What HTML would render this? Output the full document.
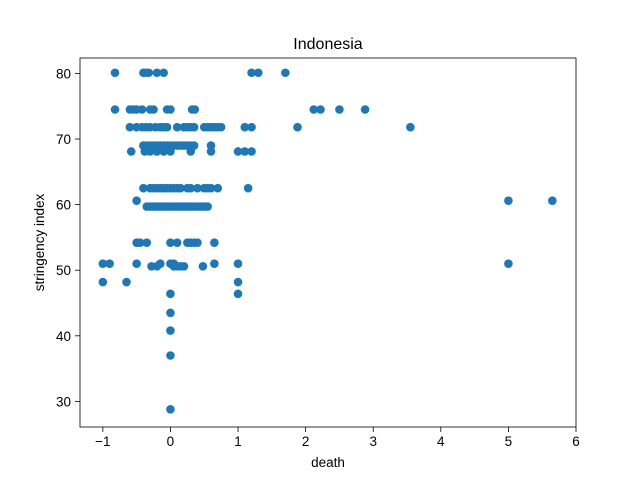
<!DOCTYPE html>
<html><head><meta charset="utf-8"><style>body{margin:0;background:#fff}svg{font-family:"Liberation Sans","DejaVu Sans",sans-serif}</style></head>
<body>
<svg id="chart" width="640" height="480" xmlns="http://www.w3.org/2000/svg">
<rect width="640" height="480" fill="#fff"/>
<g id="points"></g>
<rect x="80" y="58" width="496" height="369" fill="none" stroke="#000" stroke-width="0.8"/>
<g id="xt"></g>
<g id="yt"></g>
<text x="328" y="49" font-size="16" text-anchor="middle">Indonesia</text>
<text x="328" y="467" font-size="13.5" text-anchor="middle">death</text>
<text transform="translate(44,242.5) rotate(-90)" font-size="13.5" text-anchor="middle">stringency index</text>
</svg>
<script>
const xTicks=[-1,0,1,2,3,4,5,6];
const yTicks=[30,40,50,60,70,80];
const levels=[80.1,74.5,71.8,69,68.1,62.5,60.6,59.7,54.2,51,50.6,48.2,46.4,43.5,40.8,37,28.8];
const xsByLevel=[
[-0.82,-0.4,-0.36,-0.32,-0.2,-0.1,1.2,1.3,1.7],
[-0.82,-0.6,-0.55,-0.5,-0.42,-0.3,-0.25,-0.05,0,0.32,0.36,2.12,2.22,2.5,2.88],
[-0.6,-0.5,-0.42,-0.36,-0.3,-0.22,-0.15,-0.1,-0.05,0.1,0.2,0.25,0.3,0.35,0.5,0.55,0.6,0.65,0.7,0.75,1.1,1.2,1.88,3.55],
[-0.4,-0.35,-0.3,-0.25,-0.2,-0.15,-0.1,-0.05,0,0.05,0.1,0.15,0.2,0.25,0.3,0.35,0.6],
[-0.58,-0.38,-0.3,-0.2,-0.1,0,0.3,0.6,1,1.1,1.2],
[-0.4,-0.3,-0.25,-0.2,-0.15,-0.1,-0.05,0,0.05,0.1,0.15,0.25,0.3,0.4,0.5,0.55,0.6,0.7,1.15],
[-0.5,5,5.65],
[-0.35,-0.3,-0.25,-0.2,-0.15,-0.1,-0.05,0,0.05,0.1,0.15,0.2,0.25,0.3,0.35,0.4,0.45,0.5,0.55],
[-0.5,-0.45,-0.35,0,0.1,0.25,0.3,0.35,0.4,0.65],
[-1,-0.9,-0.5,-0.15,0,0.05,0.65,1,5],
[-0.28,-0.2,0.05,0.1,0.15,0.2,0.48],
[-1,-0.65,1],
[0,1],[0],[0],[0],[0]];
const NS="http://www.w3.org/2000/svg";
const xmin=-1.338,xmax=6,ymin=26.1,ymax=82.35;
const X=v=>80+(v-xmin)/(xmax-xmin)*496;
const Y=v=>427-(v-ymin)/(ymax-ymin)*369;
const pg=document.getElementById('points');
levels.forEach((lv,i)=>xsByLevel[i].forEach(x=>{
 const c=document.createElementNS(NS,'circle');
 c.setAttribute('cx',X(x));c.setAttribute('cy',Y(lv));c.setAttribute('r',4.3);c.setAttribute('fill','#1f77b4');
 
 
 pg.appendChild(c);}));
const xg=document.getElementById('xt');
xTicks.forEach(t=>{
 const l=document.createElementNS(NS,'line');
 l.setAttribute('x1',X(t));l.setAttribute('x2',X(t));l.setAttribute('y1',427);l.setAttribute('y2',432);l.setAttribute('stroke','#000');l.setAttribute('stroke-width',0.8);
 
 
 xg.appendChild(l);
 const s=document.createElementNS(NS,'text');
 s.setAttribute('x',X(t));s.setAttribute('y',446);s.setAttribute('font-size',13.5);s.setAttribute('text-anchor','middle');
 s.textContent=t<0?'\u2212'+Math.abs(t):t;
 
 
 xg.appendChild(s);});
const yg=document.getElementById('yt');
yTicks.forEach(t=>{
 const l=document.createElementNS(NS,'line');
 l.setAttribute('x1',75);l.setAttribute('x2',80);l.setAttribute('y1',Y(t));l.setAttribute('y2',Y(t));l.setAttribute('stroke','#000');l.setAttribute('stroke-width',0.8);
 
 
 yg.appendChild(l);
 const s=document.createElementNS(NS,'text');
 s.setAttribute('x',71);s.setAttribute('y',Y(t)+5);s.setAttribute('font-size',13.5);s.setAttribute('text-anchor','end');
 s.textContent=t;
 
 
 yg.appendChild(s);});
</script>
</body></html>
